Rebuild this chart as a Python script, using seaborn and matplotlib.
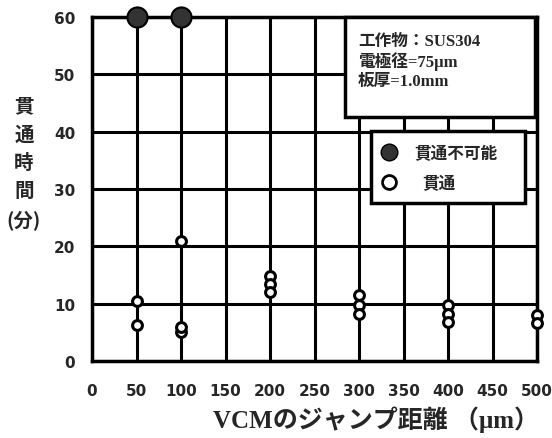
import matplotlib
matplotlib.use("Agg")
import matplotlib.pyplot as plt
import seaborn as sns
import pandas as pd
from matplotlib.lines import Line2D
from matplotlib.patches import Rectangle

sns.set_style("white")
plt.rcParams['font.family'] = ['DejaVu Sans', 'Noto Sans CJK JP']

# data
pierced_x = [50, 50, 100, 100, 100, 200, 200, 200, 300, 300, 300, 400, 400, 400, 500, 500]
pierced_y = [10.4, 6.3, 21.0, 5.0, 6.0, 14.8, 13.4, 12.0, 11.5, 9.8, 8.2, 9.7, 8.2, 6.8, 8.0, 6.7]
fail_x = [50, 100]
fail_y = [60, 60]
x_ticks = [0, 50, 100, 150, 200, 250, 300, 350, 400, 450, 500]
y_ticks = [0, 10, 20, 30, 40, 50, 60]
legend_labels = ['貫通不可能', '貫通']
info_lines = ['工作物：SUS304', '電極径=75μm', '板厚=1.0mm']
xlabel = 'VCMのジャンプ距離 （μm）'
ylabel = '貫\n通\n時\n間\n(分)'

df_p = pd.DataFrame({'x': pierced_x, 'y': pierced_y})
df_f = pd.DataFrame({'x': fail_x, 'y': fail_y})

fig = plt.figure(figsize=(5.52, 4.39), dpi=100)
ax = fig.add_axes([92/552, 1-362/439, (537-92)/552, (362-18)/439])

ax.set_xlim(0, 500)
ax.set_ylim(0, 60)
ax.set_xticks(x_ticks)
ax.set_yticks(y_ticks)
ax.grid(True, color='black', linewidth=2.2)
ax.set_axisbelow(True)
for s in ax.spines.values():
    s.set_color('black')
    s.set_linewidth(2.5)
ax.tick_params(length=0, labelsize=11)
for lab in ax.get_xticklabels() + ax.get_yticklabels():
    lab.set_fontweight('bold')
ax.tick_params(axis='x', pad=16)
ax.tick_params(axis='y', pad=12)

sns.scatterplot(data=df_p, x='x', y='y', ax=ax, marker='o', s=50,
                facecolor='white', edgecolor='black', linewidth=2.2,
                clip_on=False, zorder=5, legend=False)
sns.scatterplot(data=df_f, x='x', y='y', ax=ax, marker='o', s=210,
                color='#333333', edgecolor='black', linewidth=1.5,
                clip_on=False, zorder=6, legend=False)

ax.set_xlabel('')
ax.set_ylabel('')

# info box
box = Rectangle((345/552, 1-118/439), (535-345)/552, (118-18)/439,
                transform=fig.transFigure, facecolor='white', edgecolor='black',
                linewidth=2.5, zorder=10)
fig.add_artist(box)
for i, t in enumerate(info_lines):
    fig.text(358/552, 1-(42+i*20)/439, t, fontsize=12, fontweight='bold',
             family=['Liberation Serif', 'Noto Sans CJK JP'], va='center', ha='left', zorder=11)

# legend box
lbox = Rectangle((371/552, 1-204/439), (525-371)/552, (204-132)/439,
                 transform=fig.transFigure, facecolor='white', edgecolor='black',
                 linewidth=2.5, zorder=10)
fig.add_artist(lbox)
fig.add_artist(Line2D([389/552], [1-153/439], marker='o', markersize=12,
                      markerfacecolor='#333333', markeredgecolor='black',
                      transform=fig.transFigure, zorder=11))
fig.add_artist(Line2D([389/552], [1-183/439], marker='o', markersize=10,
                      markerfacecolor='white', markeredgecolor='black', markeredgewidth=2,
                      transform=fig.transFigure, zorder=11))
fig.text(414/552, 1-154/439, legend_labels[0], fontsize=12, fontweight='bold',
         family=['Noto Sans CJK JP'], va='center', ha='left', zorder=11)
fig.text(422/552, 1-184/439, legend_labels[1], fontsize=12, fontweight='bold',
         family=['Noto Sans CJK JP'], va='center', ha='left', zorder=11)

# axis labels
fig.text(376/552, 1-420/439, xlabel, fontsize=18, fontweight='bold',
         family=['Liberation Serif', 'Noto Sans CJK JP'], ha='center', va='center')
fig.text(24/552, 1-164/439, ylabel, fontsize=14, fontweight='bold',
         family=['Noto Sans CJK JP'], ha='center', va='center', linespacing=1.6)

fig.savefig('out.png', dpi=100)
